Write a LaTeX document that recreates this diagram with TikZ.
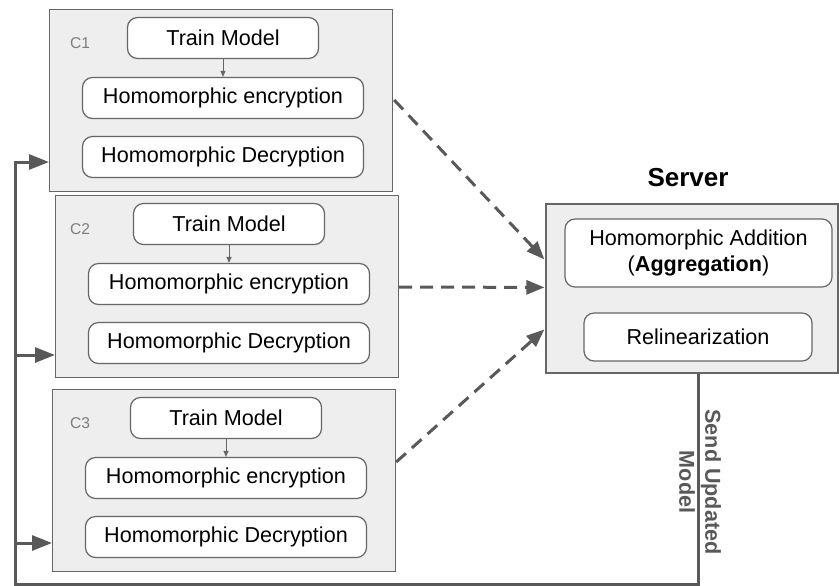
\documentclass[tikz,border=0pt]{standalone}
\usepackage{fontspec}
\setmainfont{Liberation Sans}
\usetikzlibrary{arrows.meta,calc}

\definecolor{linegray}{HTML}{595959}
\definecolor{boxgray}{HTML}{EEEEEE}
\definecolor{edgegray}{HTML}{666666}

\tikzset{
  client/.style={draw=edgegray, line width=0.6pt, fill=boxgray,
    minimum width=171.5pt, minimum height=91pt, inner sep=0pt},
  task/.style={draw=edgegray, line width=0.6pt, fill=white, rounded corners=5pt,
    minimum height=20.5pt, inner sep=0pt, align=center,
    font=\fontsize{10.8}{13}\selectfont},
  upload/.style={draw=linegray, line width=1.5pt, dash pattern=on 6.5pt off 4pt,
    -{Triangle[length=9pt,width=7pt]}},
  feedback/.style={draw=linegray, line width=1.5pt,
    -{Triangle[length=10pt,width=7.5pt]}},
}

\begin{document}
\begin{tikzpicture}[x=0.5pt, y=-0.5pt]
  % 1 単位 = 1 px (839 x 585)
  \useasboundingbox (0,0) rectangle (839,585);

  % クライアント: 番号/左端/上端/戻り矢印の高さ
  \foreach \n/\lx/\ty/\ay in {1/49/9/162, 2/55/195/355, 3/52/389/543} {
    \node[client, anchor=north west] (c\n) at (\lx,\ty) {};
    \node[font=\fontsize{7.8}{9}\selectfont, text=edgegray!85] (lab\n) at (80,\ty+34) {C\n};
    \node[task, minimum width=95.5pt] (train\n) at (\lx+174,\ty+29) {Train Model};
    \node[task, minimum width=140.5pt] (enc\n) at (\lx+174,\ty+89) {Homomorphic encryption};
    \node[task, minimum width=140.5pt] (dec\n) at (\lx+174,\ty+148) {Homomorphic Decryption};
    \draw[edgegray, line width=0.5pt, -{Triangle[length=3pt,width=2.5pt]}] (train\n) -- (enc\n);
    \coordinate (in\n) at (\lx,\ay);
  }

  % サーバ
  \node[font=\bfseries\fontsize{13}{15}\selectfont] (srvtitle) at (688,178) {Server};
  \node[client, minimum width=146pt, minimum height=84.5pt] (srv) at (692,288.5) {};
  \node[task, minimum width=133.5pt, minimum height=34pt] (add) at (698.5,253)
    {Homomorphic Addition\\(\textbf{Aggregation})};
  \node[task, minimum width=114pt, minimum height=24pt] (relin) at (698,337) {Relinearization};

  % 暗号化したモデルを送る
  \draw[upload] ($(c1.north east)+(1,91)$) -- ($(srv.north west)+(-1,56)$);
  \draw[upload] ($(c2.north east)+(0,92)$) -- ($(srv.north west)+(-1,84)$);
  \draw[upload] ($(c3.north east)+(0,73)$) -- ($(srv.north west)+(-1,126)$);

  % 更新モデルを戻す(下の線は画像の端で半分切れる)
  \coordinate (bend) at (15,584.5);
  \draw[feedback] (relin |- srv.south) |- (bend) |- (in1);
  \draw[feedback] (bend |- in2) -- (in2);
  \draw[feedback] (bend |- in3) -- (in3);
  \node[rotate=-90, align=center, text=linegray,
    font=\bfseries\fontsize{10.8}{13}\selectfont] (sendlbl) at (700,482)
    {Send Updated\\Model};
\end{tikzpicture}
\end{document}
